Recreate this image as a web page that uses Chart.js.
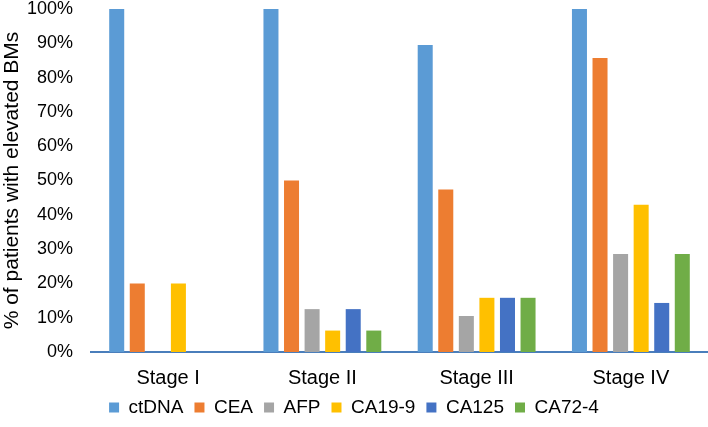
<!DOCTYPE html>
<html>
<head>
<meta charset="utf-8">
<script src="https://cdn.jsdelivr.net/npm/chart.js@4.4.0/dist/chart.umd.min.js"></script>
<style>
  html, body { margin: 0; padding: 0; background: #fff; }
  #wrap { width: 708px; height: 427px; }
</style>
</head>
<body>
<div id="wrap"><canvas id="chartEl" width="708" height="427"></canvas></div>
<script>
// categories and series (percent of patients)
const stages = ['Stage I', 'Stage II', 'Stage III', 'Stage IV']
const ctDNA = [100, 100, 89.5, 100]
const CEA = [20, 50, 47.4, 85.7]
const AFP = [0, 12.5, 10.5, 28.6]
const CA199 = [20, 6.25, 15.8, 42.9]
const CA125 = [0, 12.5, 15.8, 14.3]
const CA724 = [0, 6.25, 15.8, 28.6]
const yTicks = [0, 10, 20, 30, 40, 50, 60, 70, 80, 90, 100]

const font = "'Liberation Sans', Arial, sans-serif"

// stage labels sit below the x box, so don't clip them to it
const unclipX = {
  id: 'unclipX',
  afterLayout: (c) => { c.scales.x.bottom = c.height }
}

const ctx = document.getElementById('chartEl').getContext('2d')
const chart = new Chart(ctx, {
  type: 'bar',
  data: {
    labels: stages,
    datasets: [
      { label: 'ctDNA', data: ctDNA, backgroundColor: '#5B9BD5' },
      { label: 'CEA', data: CEA, backgroundColor: '#ED7D31' },
      { label: 'AFP', data: AFP, backgroundColor: '#A5A5A5' },
      { label: 'CA19-9', data: CA199, backgroundColor: '#FFC000' },
      { label: 'CA125', data: CA125, backgroundColor: '#4472C4' },
      { label: 'CA72-4', data: CA724, backgroundColor: '#70AD47' }
    ]
  },
  plugins: [unclipX],
  options: {
    responsive: false,
    animation: false,
    layout: { padding: 0 },
    datasets: {
      bar: { barPercentage: 0.73, categoryPercentage: 0.8 }
    },
    plugins: {
      legend: {
        position: 'bottom',
        labels: {
          boxWidth: 10,
          boxHeight: 10,
          padding: 11,
          color: '#000',
          font: { family: font, size: 19, lineHeight: 1 }
        }
      },
      tooltip: { enabled: false }
    },
    scales: {
      x: {
        grid: { display: false, drawTicks: false },
        border: { color: '#4a7ebb', width: 2 },
        ticks: { color: '#000', padding: 16, font: { family: font, size: 20, lineHeight: 1 } },
        afterFit: (axis) => { axis.height = 35; axis.paddingLeft = 0; axis.paddingRight = 0 }
      },
      y: {
        min: 0,
        max: 100,
        afterBuildTicks: (axis) => { axis.ticks = yTicks.map(v => ({ value: v })) },
        afterFit: (axis) => { axis.width = 91; axis.paddingTop = 9; axis.paddingBottom = 0 },
        grid: { display: false, drawTicks: false },
        border: { display: false },
        ticks: {
          color: '#000',
          padding: 18,
          font: { family: font, size: 18 },
          callback: (v) => v + '%'
        },
        title: {
          display: true,
          text: '% of patients with elevated BMs',
          color: '#000',
          font: { family: font, size: 21 },
          padding: { top: 0, bottom: 1 }
        }
      }
    }
  }
})
</script>
</body>
</html>
